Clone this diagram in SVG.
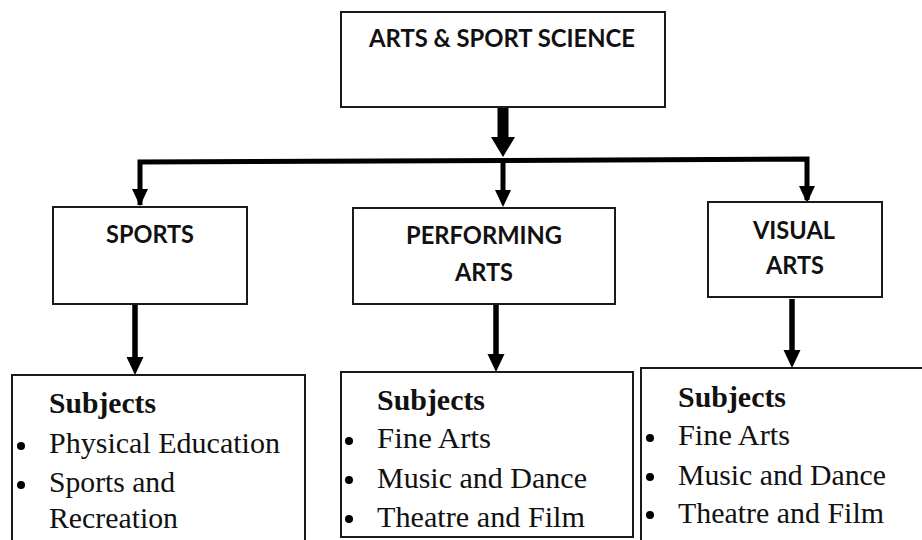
<svg xmlns="http://www.w3.org/2000/svg" width="922" height="540" viewBox="0 0 922 540">
  <style>
    .box { fill: #ffffff; stroke: #1a1a1a; stroke-width: 2; }
    .head { font-family: Lato, "Liberation Sans", sans-serif; font-weight: bold; font-size: 25px; fill: #111; }
    .sub { font-family: "Liberation Serif", "Times New Roman", serif; font-size: 30px; fill: #111; }
    .subb { font-family: "Liberation Serif", "Times New Roman", serif; font-size: 30px; font-weight: bold; fill: #111; }
    .wire { stroke: #000; fill: none; }
    .tip { fill: #000; }
    .dot { fill: #000; }
  </style>

  <rect width="922" height="540" fill="#ffffff"/>

  <!-- connectors -->
  <g id="connectors">
    <!-- heavy arrow out of the root box -->
    <rect class="tip" x="497.5" y="107" width="11" height="31"/>
    <polygon class="tip" points="491,137 515,137 503,157"/>
    <!-- distribution bar -->
    <polyline class="wire" stroke-width="5" stroke-linejoin="miter" points="140,205 140,162 503,160.5 807,159 807,200"/>
    <line class="wire" stroke-width="5" x1="503" y1="160" x2="503" y2="192"/>
    <polygon class="tip" points="132,189 148,189 140,206"/>
    <polygon class="tip" points="495,190 511,190 503,207"/>
    <polygon class="tip" points="799,186 815,186 807,203"/>
    <!-- drops into the subject boxes -->
    <line class="wire" stroke-width="5.5" x1="135" y1="304" x2="135" y2="360"/>
    <polygon class="tip" points="126.5,357 143.5,357 135,375"/>
    <line class="wire" stroke-width="5.5" x1="496" y1="304" x2="496" y2="357"/>
    <polygon class="tip" points="487.5,354 504.5,354 496,372"/>
    <line class="wire" stroke-width="5.5" x1="792" y1="299" x2="792" y2="353"/>
    <polygon class="tip" points="783.5,350 800.5,350 792,368"/>
  </g>

  <g id="root">
    <rect class="box" x="341" y="12" width="324" height="95"/>
    <text class="head" x="369" y="47" textLength="266" lengthAdjust="spacingAndGlyphs">ARTS &amp; SPORT SCIENCE</text>
  </g>

  <g id="sports">
    <rect class="box" x="53" y="207" width="194" height="97"/>
    <text class="head" x="106" y="243" textLength="88" lengthAdjust="spacingAndGlyphs">SPORTS</text>
  </g>

  <g id="performing-arts">
    <rect class="box" x="353" y="208" width="262" height="96"/>
    <text class="head" x="406" y="244" textLength="156" lengthAdjust="spacingAndGlyphs">PERFORMING</text>
    <text class="head" x="455" y="281" textLength="58" lengthAdjust="spacingAndGlyphs">ARTS</text>
  </g>

  <g id="visual-arts">
    <rect class="box" x="708" y="202" width="174" height="95"/>
    <text class="head" x="753" y="239" textLength="82" lengthAdjust="spacingAndGlyphs">VISUAL</text>
    <text class="head" x="766" y="274" textLength="58" lengthAdjust="spacingAndGlyphs">ARTS</text>
  </g>

  <g id="sports-subjects">
    <rect class="box" x="12" y="375" width="293" height="180"/>
    <text class="subb" x="49" y="413" textLength="107" lengthAdjust="spacingAndGlyphs">Subjects</text>
    <circle class="dot" cx="21" cy="446" r="4"/>
    <text class="sub" x="49" y="453" textLength="231" lengthAdjust="spacingAndGlyphs">Physical Education</text>
    <circle class="dot" cx="21" cy="485" r="4"/>
    <text class="sub" x="49" y="492" textLength="126" lengthAdjust="spacingAndGlyphs">Sports and</text>
    <text class="sub" x="49" y="528" textLength="129" lengthAdjust="spacingAndGlyphs">Recreation</text>
  </g>

  <g id="performing-subjects">
    <rect class="box" x="341" y="372" width="292" height="165"/>
    <text class="subb" x="377" y="410" textLength="108" lengthAdjust="spacingAndGlyphs">Subjects</text>
    <circle class="dot" cx="349" cy="441" r="4"/>
    <text class="sub" x="377" y="448" textLength="114" lengthAdjust="spacingAndGlyphs">Fine Arts</text>
    <circle class="dot" cx="349" cy="480" r="4"/>
    <text class="sub" x="377" y="488" textLength="210" lengthAdjust="spacingAndGlyphs">Music and Dance</text>
    <circle class="dot" cx="349" cy="519" r="4"/>
    <text class="sub" x="377" y="527" textLength="208" lengthAdjust="spacingAndGlyphs">Theatre and Film</text>
  </g>

  <g id="visual-subjects">
    <rect class="box" x="641" y="368" width="300" height="190"/>
    <text class="subb" x="678" y="407" textLength="108" lengthAdjust="spacingAndGlyphs">Subjects</text>
    <circle class="dot" cx="650" cy="438" r="4"/>
    <text class="sub" x="678" y="445" textLength="112" lengthAdjust="spacingAndGlyphs">Fine Arts</text>
    <circle class="dot" cx="650" cy="477" r="4"/>
    <text class="sub" x="678" y="485" textLength="208" lengthAdjust="spacingAndGlyphs">Music and Dance</text>
    <circle class="dot" cx="650" cy="515" r="4"/>
    <text class="sub" x="678" y="523" textLength="206" lengthAdjust="spacingAndGlyphs">Theatre and Film</text>
  </g>
</svg>
